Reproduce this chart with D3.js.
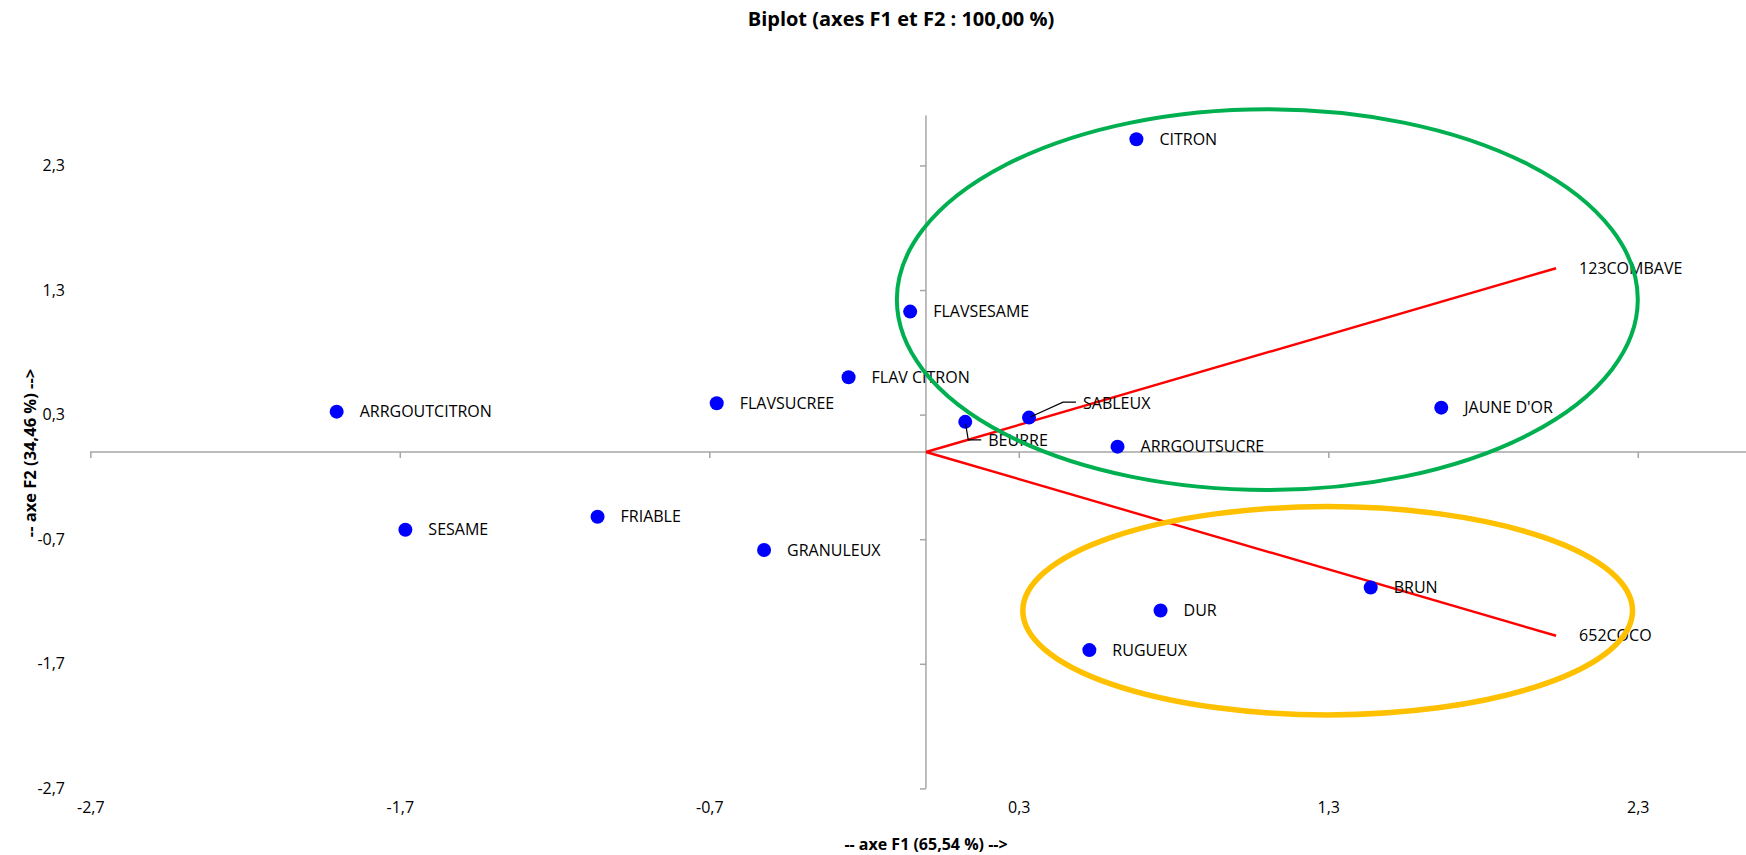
<!DOCTYPE html>
<html>
<head>
<meta charset="utf-8">
<script src="https://cdn.jsdelivr.net/npm/d3@7/dist/d3.min.js"></script>
<style>
  html, body { margin: 0; padding: 0; background: #fff; }
  svg { display: block; font-family: "Open Sans", "DejaVu Sans", sans-serif; }
</style>
</head>
<body>
<svg id="chart" width="1746" height="855"></svg>
<script>
// ---- Data ----
const categories = ["ARRGOUTCITRON", "SESAME", "FRIABLE", "FLAVSUCREE", "GRANULEUX", "FLAV CITRON",
  "FLAVSESAME", "BEURRE", "SABLEUX", "ARRGOUTSUCRE", "CITRON", "DUR", "RUGUEUX", "BRUN", "JAUNE D'OR"];
const f1Values = [-1.904, -1.682, -1.061, -0.676, -0.523, -0.250, -0.051, 0.127, 0.333, 0.619, 0.680, 0.758, 0.528, 1.437, 1.665];
const f2Values = [0.324, -0.624, -0.520, 0.391, -0.787, 0.600, 1.127, 0.242, 0.276, 0.043, 2.510, -1.272, -1.590, -1.087, 0.356];

const variableNames = ["123COMBAVE", "652COCO"];
const variableF1 = [2.036, 2.036];
const variableF2 = [1.475, -1.475];

const tickValues = [-2.7, -1.7, -0.7, 0.3, 1.3, 2.3];

// highlight ellipses (in axis units)
const ellipseCenterF1 = [1.103, 1.298];
const ellipseCenterF2 = [1.223, -1.274];
const ellipseRadiusF1 = [1.197, 0.985];
const ellipseRadiusF2 = [1.528, 0.836];
const ellipseColors = ["#00B050", "#FFC000"];

const titleText = "Biplot (axes F1 et F2 : 100,00 %)";
const xTitle = "-- axe F1 (65,54 %) -->";
const yTitle = "-- axe F2 (34,46 %) -->";

// ---- Drawing ----
const W = 1746, H = 855;
const svg = d3.select("#chart");

const x = d3.scaleLinear().domain([-2.7, 2.7]).range([90.3, 90.3 + 5.4 * 309.5]);
const y = d3.scaleLinear().domain([-2.7, 2.7]).range([788.4, 115.6]);
const fmt = v => d3.format(".1f")(v).replace(".", ",").replace("−", "-");

const axisColor = "#A6A6A6";

// X axis line + ticks at y=0
const gx = svg.append("g").attr("transform", `translate(0,${y(0)})`)
  .call(d3.axisBottom(x).tickValues(tickValues).tickSize(6).tickFormat(""));
gx.select(".domain").attr("d", `M${x(-2.7)},0H${W}`);
gx.selectAll("line").attr("stroke", axisColor).attr("stroke-width", 1.5);
gx.select(".domain").attr("stroke", axisColor).attr("stroke-width", 1.5);

// Y axis line + ticks at x=0
const gy = svg.append("g").attr("transform", `translate(${x(0)},0)`)
  .call(d3.axisLeft(y).tickValues(tickValues).tickSize(6).tickFormat(""));
gy.select(".domain").attr("d", `M0,${y(2.7)}V${y(-2.7)}`);
gy.selectAll("line").attr("stroke", axisColor).attr("stroke-width", 1.5);
gy.select(".domain").attr("stroke", axisColor).attr("stroke-width", 1.5);

// Tick labels at the low edges
const gxl = svg.append("g").attr("transform", `translate(0,802)`)
  .call(d3.axisBottom(x).tickValues(tickValues).tickSize(0).tickPadding(0).tickFormat(fmt));
gxl.select(".domain").remove();
gxl.selectAll("text").attr("font-size", 16).attr("fill", "#000").attr("font-family", "Open Sans");

const gyl = svg.append("g").attr("transform", `translate(65,0)`)
  .call(d3.axisLeft(y).tickValues(tickValues).tickSize(0).tickPadding(0).tickFormat(fmt));
gyl.select(".domain").remove();
gyl.selectAll("text").attr("font-size", 16).attr("fill", "#000").attr("font-family", "Open Sans");

// Variable vectors
const vars = variableNames.map((n, i) => ({ name: n, f1: variableF1[i], f2: variableF2[i] }));
svg.append("g").selectAll("line").data(vars).join("line")
  .attr("x1", x(0)).attr("y1", y(0))
  .attr("x2", d => x(d.f1)).attr("y2", d => y(d.f2))
  .attr("stroke", "#FF0000").attr("stroke-width", 2.4);
svg.append("g").selectAll("text").data(vars).join("text")
  .attr("x", d => x(d.f1) + 23).attr("y", d => y(d.f2)).attr("dy", "0.35em")
  .attr("font-size", 16).attr("fill", "#000").text(d => d.name);

// Observations
const obs = categories.map((n, i) => ({ name: n, f1: f1Values[i], f2: f2Values[i] }));
svg.append("g").selectAll("circle").data(obs).join("circle")
  .attr("cx", d => x(d.f1)).attr("cy", d => y(d.f2)).attr("r", 7)
  .attr("fill", "#0000FF");

const labelShift = { "SABLEUX": [54, -14.5], "BEURRE": [23, 19] };
const lab = d => {
  const s = labelShift[d.name] || [23, 0];
  return [x(d.f1) + s[0], y(d.f2) + s[1]];
};
svg.append("g").selectAll("path").data(obs.filter(d => labelShift[d.name])).join("path")
  .attr("d", d => {
    const [tx, ty] = lab(d);
    const cx = x(d.f1), cy = y(d.f2);
    const ex = tx - 20, ey = ty - 1;
    const ang = Math.atan2(ey - cy, ex - cx);
    return `M${cx + 2 * Math.cos(ang)},${cy + 2 * Math.sin(ang)}L${ex},${ey}H${tx - 7}`;
  })
  .attr("fill", "none").attr("stroke", "#000").attr("stroke-width", 1.2);
svg.append("g").selectAll("text").data(obs).join("text")
  .attr("x", d => lab(d)[0]).attr("y", d => lab(d)[1]).attr("dy", "0.35em")
  .attr("font-size", 16).attr("fill", "#000").text(d => d.name);

// Highlight ellipses
const ells = ellipseCenterF1.map((c, i) => ({
  cx: c, cy: ellipseCenterF2[i], rx: ellipseRadiusF1[i], ry: ellipseRadiusF2[i], color: ellipseColors[i], w: i === 0 ? 4 : 5.5
}));
svg.append("g").selectAll("ellipse").data(ells).join("ellipse")
  .attr("cx", d => x(d.cx)).attr("cy", d => y(d.cy))
  .attr("rx", d => x(d.cx + d.rx) - x(d.cx)).attr("ry", d => y(d.cy - d.ry) - y(d.cy))
  .attr("fill", "none").attr("stroke", d => d.color).attr("stroke-width", d => d.w);

// Titles
svg.append("text").attr("x", 901).attr("y", 19).attr("dy", "0.35em")
  .attr("text-anchor", "middle").attr("font-weight", "bold").attr("font-size", 20)
  .text(titleText);
svg.append("text").attr("x", 926).attr("y", 844).attr("dy", "0.35em")
  .attr("text-anchor", "middle").attr("font-weight", "bold").attr("font-size", 16)
  .text(xTitle);
svg.append("text").attr("transform", "translate(30,453) rotate(-90)").attr("dy", "0.35em")
  .attr("text-anchor", "middle").attr("font-weight", "bold").attr("font-size", 16.5)
  .text(yTitle);
</script>
</body>
</html>
